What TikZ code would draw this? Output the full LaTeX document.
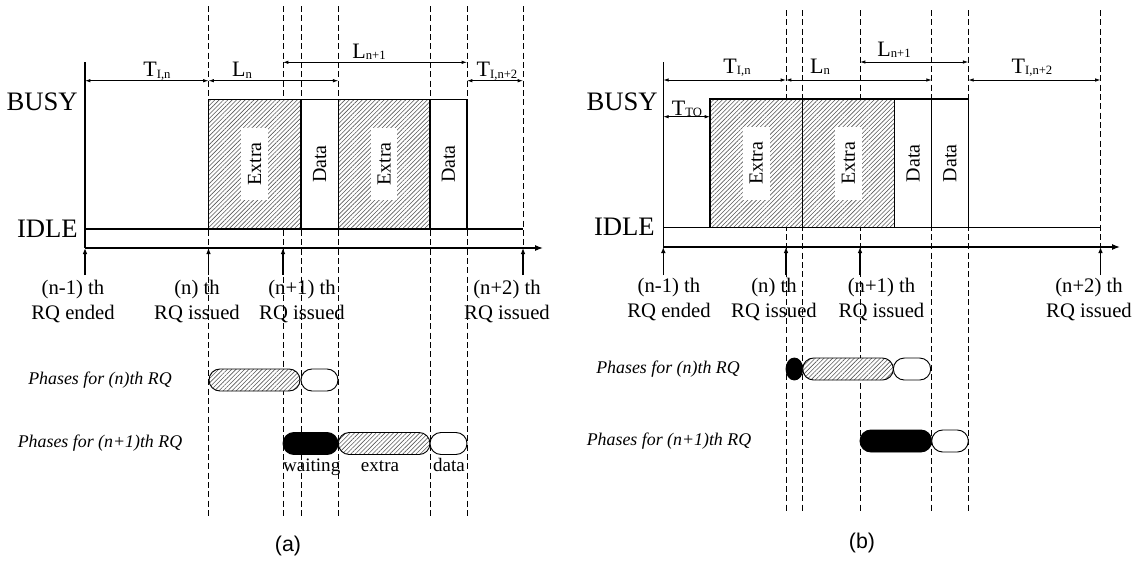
\documentclass[tikz,border=0pt]{standalone}
\usepackage{fontspec}
\setmainfont{Liberation Serif}
\newfontfamily\capfont{Liberation Sans}
\usetikzlibrary{arrows.meta, patterns.meta, shapes.misc, shapes.geometric}

\newcommand{\lsub}[1]{\raisebox{-1pt}{\fontsize{9.5}{10}\selectfont #1}}

\begin{document}
\begin{tikzpicture}[
  x=0.75pt, y=-0.75pt,
  axis/.style={line width=0.9pt},
  axarrow/.style={-{Latex[length=6pt, width=4.5pt]}, line width=0.9pt},
  uparrow/.style={-{Latex[length=4.5pt, width=3.5pt]}, line width=0.9pt},
  dimline/.style={{Latex[length=4pt, width=2.6pt]}-{Latex[length=4pt, width=2.6pt]}, line width=0.6pt},
  guide/.style={dash pattern=on 4.5pt off 2.5pt, line width=0.6pt},
  slot/.style={draw, line width=0.8pt},
  hatched/.style={preaction={fill=white}, pattern={Lines[angle=45, distance=2.3pt, line width=0.45pt]},
                  pattern color=black!65},
  pill/.style={rounded rectangle, draw, line width=0.7pt, minimum height=16.5pt,
               minimum width=#1, inner sep=0pt, fill=white},
  state/.style={font=\fontsize{20}{22}\selectfont, anchor=base east, inner sep=0pt},
  dimlbl/.style={font=\fontsize{16.5}{18}\selectfont, anchor=base, inner sep=0pt},
  vtag/.style={font=\fontsize{15}{17}\selectfont, rotate=90, inner xsep=11pt, inner ysep=5pt},
  evt/.style={font=\fontsize{15.5}{18.75}\selectfont, align=center, inner sep=0pt},
  phase/.style={font=\fontsize{13.4}{16}\selectfont\itshape, inner sep=0pt},
  plbl/.style={font=\fontsize{14.3}{16}\selectfont, anchor=base, inner sep=0pt},
  captag/.style={font=\fontsize{16}{18}\capfont, inner sep=0pt}
]
\useasboundingbox (0,0) rectangle (1138,562);

% ==================== PANEL (a) ====================
\foreach \x in {208.5,283,301,338.3,430,467}
  \draw[guide] (\x,6) -- (\x,516);
\draw[guide] (523,6) -- (523,248);

\draw[axis] (85,62) -- (85,248);
\draw[axarrow] (85,248) -- (543,248);
\draw[axis] (85,229) -- (523,229);

\draw[slot, hatched] (208.5,99.3) rectangle (301,229);
\draw[slot, fill=white] (301,99.3) rectangle (338.3,229);
\draw[slot, hatched] (338.3,99.3) rectangle (430,229);
\draw[slot, fill=white] (430,99.3) rectangle (467,229);

\node[vtag, fill=white] (aex1) at (254.75,164) {Extra};
\node[vtag] (ada1) at (319.65,164) {Data};
\node[vtag, fill=white] (aex2) at (384.15,164) {Extra};
\node[vtag] (ada2) at (448.5,164) {Data};

\node[state] (abusy) at (78,110) {BUSY};
\node[state] (aidle) at (78,237) {IDLE};

\draw[dimline] (85,80.7) -- (208.5,80.7);
\draw[dimline] (208.5,80.7) -- (338.3,80.7);
\draw[dimline] (283,62.3) -- (467,62.3);
\draw[dimline] (467,80.7) -- (523,80.7);
\node[dimlbl] (atin) at (157,76.7) {T\lsub{I,n}};
\node[dimlbl] (aln) at (242,76.7) {L\lsub{n}};
\node[dimlbl] (aln1) at (369,58.3) {L\lsub{n+1}};
\node[dimlbl] (atin2) at (497,76.7) {T\lsub{I,n+2}};

\foreach \x in {85,208.5,283,523}
  \draw[uparrow] (\x,275) -- (\x,248);

\node[evt] (aev0) at (73,301.5) {(n-1) th\\RQ ended};
\node[evt] (aev1) at (197,301.5) {(n) th\\RQ issued};
\node[evt] (aev2) at (302,301.5) {(n+1) th\\RQ issued};
\node[evt] (aev3) at (507,301.5) {(n+2) th\\RQ issued};

\node[phase] (aph1) at (100,380) {Phases for (n)th RQ};
\node[phase] (aph2) at (100,443.5) {Phases for (n+1)th RQ};

\node[pill=68.25pt, hatched] (ap1x) at (254.5,380) {};
\node[pill=27.75pt] (ap1d) at (319.5,380) {};
\node[pill=41.25pt, fill=black] (ap2w) at (310.5,443.5) {};
\node[pill=68.8pt, hatched] (ap2x) at (384.15,443.5) {};
\node[pill=27.75pt] (ap2d) at (448.5,443.5) {};

\node[plbl] (await) at (311.7,471.7) {waiting};
\node[plbl] (aextra) at (380,471.7) {extra};
\node[plbl] (adata) at (449,471.7) {data};

\node[captag] (acap) at (288,546) {(a)};

% ==================== PANEL (b) ====================
\foreach \x in {786,802.3,860,931.7,968.3}
  \draw[guide] (\x,10) -- (\x,513);
\draw[guide] (1100.5,10) -- (1100.5,247);

\draw[axis] (663.3,62) -- (663.3,247);
\draw[axarrow] (663.3,247) -- (1120,247);
\draw[axis] (663.3,227.5) -- (1100.5,227.5);

\draw[slot, hatched] (710,99) rectangle (802.3,227.5);
\draw[slot, hatched] (802.3,99) rectangle (894.5,227.5);
\draw[slot, fill=white] (894.5,99) rectangle (931.7,227.5);
\draw[slot, fill=white] (931.7,99) rectangle (968.3,227.5);

\node[vtag, fill=white] (bex1) at (756.2,163.25) {Extra};
\node[vtag, fill=white] (bex2) at (848.4,163.25) {Extra};
\node[vtag] (bda1) at (913.1,163.25) {Data};
\node[vtag] (bda2) at (950,163.25) {Data};

\node[state] (bbusy) at (658,110) {BUSY};
\node[state] (bidle) at (655,235) {IDLE};

\draw[dimline] (663.3,80) -- (786,80);
\draw[dimline] (786,80) -- (931.7,80);
\draw[dimline] (860,62) -- (968.3,62);
\draw[dimline] (968.3,80) -- (1100.5,80);
\draw[dimline] (663.3,116.7) -- (710,116.7);
\node[dimlbl] (btin) at (737,73.5) {T\lsub{I,n}};
\node[dimlbl] (bln) at (820,73.5) {L\lsub{n}};
\node[dimlbl] (bln1) at (894,56) {L\lsub{n+1}};
\node[dimlbl] (btin2) at (1032,73.5) {T\lsub{I,n+2}};
\node[dimlbl] (btto) at (687,115) {T\lsub{TO}};

\foreach \x in {663.3,786,860,1100.5}
  \draw[uparrow] (\x,275) -- (\x,247);

\node[evt] (bev0) at (669,299) {(n-1) th\\RQ ended};
\node[evt] (bev1) at (774,299) {(n) th\\RQ issued};
\node[evt] (bev2) at (881.5,299) {(n+1) th\\RQ issued};
\node[evt] (bev3) at (1089,299) {(n+2) th\\RQ issued};

\node[phase] (bph1) at (668,369) {Phases for (n)th RQ};
\node[phase] (bph2) at (669,441) {Phases for (n+1)th RQ};

\node[ellipse, draw, fill=black, line width=0.7pt, minimum width=12.5pt,
      minimum height=16.5pt, inner sep=0pt] (bp1w) at (794.35,369) {};
\node[pill=68pt, hatched] (bp1x) at (848,369) {};
\node[pill=28pt] (bp1d) at (912,369) {};
\node[pill=53.8pt, fill=black] (bp2w) at (895.85,441) {};
\node[pill=27.5pt] (bp2d) at (950,441) {};

\node[captag] (bcap) at (862,543) {(b)};

\end{tikzpicture}
\end{document}
